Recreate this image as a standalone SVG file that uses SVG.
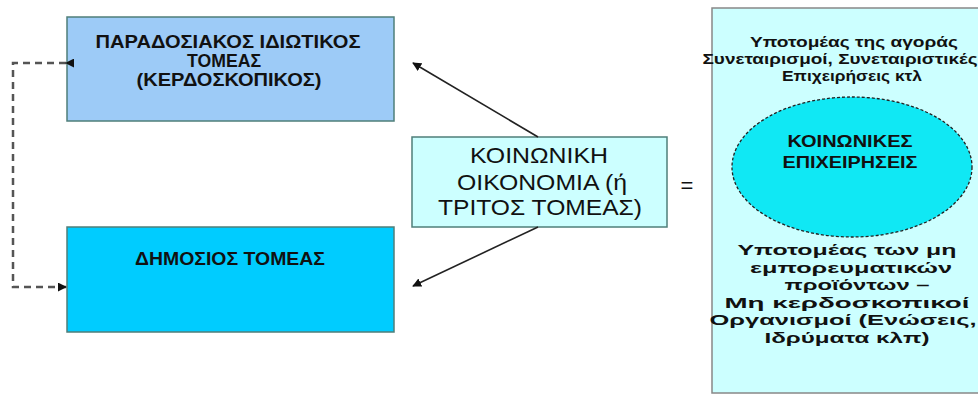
<svg xmlns="http://www.w3.org/2000/svg" width="978" height="402" viewBox="0 0 978 402">
<defs>
<marker id="ah" viewBox="0 0 10 10" refX="9" refY="5" markerWidth="9" markerHeight="9" markerUnits="userSpaceOnUse" orient="auto">
<path d="M0,0 L10,5 L0,10 z" fill="#111"/>
</marker>
<marker id="ahs" viewBox="0 0 10 10" refX="9" refY="5" markerWidth="9" markerHeight="9" markerUnits="userSpaceOnUse" orient="auto">
<path d="M0,0 L10,5 L0,10 z" fill="#111"/>
</marker>
</defs>
<style>
.t{font-family:"Liberation Sans",Arial,sans-serif;fill:#111;text-anchor:middle}
.b{font-weight:bold}
.box{stroke:#4f7f7a;stroke-width:1.5}
.con{stroke:#222;stroke-width:1.6;fill:none}
.dash{stroke:#555;stroke-width:2.5;stroke-dasharray:7,5;fill:none}
</style>
<rect width="978" height="402" fill="#fff"/>
<g id="private">
<rect class="box" x="67" y="17" width="327" height="104" fill="#9dcbf7"/>
<text class="t b" font-size="17.5" x="228" y="48" textLength="265" lengthAdjust="spacingAndGlyphs">ΠΑΡΑΔΟΣΙΑΚΟΣ ΙΔΙΩΤΙΚΟΣ</text>
<text class="t b" font-size="17.5" x="224" y="67" textLength="74" lengthAdjust="spacingAndGlyphs">ΤΟΜΕΑΣ</text>
<text class="t b" font-size="17.5" x="229" y="86" textLength="185" lengthAdjust="spacingAndGlyphs">(ΚΕΡΔΟΣΚΟΠΙΚΟΣ)</text>
</g>
<g id="public">
<rect class="box" x="67" y="227" width="327" height="105" fill="#00ccff"/>
<text class="t b" font-size="18" x="230" y="265" textLength="190" lengthAdjust="spacingAndGlyphs">ΔΗΜΟΣΙΟΣ ΤΟΜΕΑΣ</text>
</g>
<g id="social">
<rect class="box" x="412" y="137" width="255" height="90" fill="#ccffff"/>
<text class="t" font-size="22" fill="#222" x="539" y="163" textLength="138" lengthAdjust="spacingAndGlyphs">ΚΟΙΝΩΝΙΚΗ</text>
<text class="t" font-size="22" x="542" y="190" textLength="170" lengthAdjust="spacingAndGlyphs">ΟΙΚΟΝΟΜΙΑ (ή</text>
<text class="t" font-size="22" x="540" y="215" textLength="204" lengthAdjust="spacingAndGlyphs">ΤΡΙΤΟΣ ΤΟΜΕΑΣ)</text>
</g>
<g id="equals">
<text class="t" font-size="22" x="687" y="193">=</text>
</g>
<g id="third">
<rect x="712" y="8" width="270" height="385" fill="#ccffff" stroke="#888" stroke-width="1.5"/>
<text class="t b" font-size="15" x="854" y="47" textLength="208" lengthAdjust="spacingAndGlyphs">Υποτομέας της αγοράς</text>
<text class="t b" font-size="15" x="840" y="63.5" textLength="275" lengthAdjust="spacingAndGlyphs">Συνεταιρισμοί, Συνεταιριστικές</text>
<text class="t b" font-size="15" x="852" y="80.5" textLength="140" lengthAdjust="spacingAndGlyphs">Επιχειρήσεις κτλ</text>
<text class="t b" font-size="15.5" x="847" y="255" textLength="219" lengthAdjust="spacingAndGlyphs">Υποτομέας των μη</text>
<text class="t b" font-size="15.5" x="851" y="272.5" textLength="202" lengthAdjust="spacingAndGlyphs">εμπορευματικών</text>
<text class="t b" font-size="15.5" x="857" y="290" textLength="145" lengthAdjust="spacingAndGlyphs">προϊόντων –</text>
<text class="t b" font-size="15.5" x="847" y="307.5" textLength="245" lengthAdjust="spacingAndGlyphs">Μη κερδοσκοπικοί</text>
<text class="t b" font-size="15.5" x="843" y="325" textLength="267" lengthAdjust="spacingAndGlyphs">Οργανισμοί (Ενώσεις,</text>
<text class="t b" font-size="15.5" x="847" y="342.5" textLength="165" lengthAdjust="spacingAndGlyphs">Ιδρύματα κλπ)</text>
</g>
<g id="social-enterprises">
<ellipse cx="852" cy="167" rx="120" ry="70" fill="#10e8f4" stroke="#222" stroke-width="1.3" stroke-dasharray="3,2"/>
<text class="t b" font-size="17" x="850" y="147" textLength="125" lengthAdjust="spacingAndGlyphs">ΚΟΙΝΩΝΙΚΕΣ</text>
<text class="t b" font-size="17" x="850" y="168" textLength="135" lengthAdjust="spacingAndGlyphs">ΕΠΙΧΕΙΡΗΣΕΙΣ</text>
</g>
<g id="connectors">
<line class="con" x1="538" y1="137" x2="413" y2="63" marker-end="url(#ah)"/>
<line class="con" x1="538" y1="227" x2="413" y2="286" marker-end="url(#ah)"/>
<polyline class="dash" points="66,63 13,63 13,287 66,287" marker-start="url(#ahs)" marker-end="url(#ahs)"/>
</g>
</svg>
